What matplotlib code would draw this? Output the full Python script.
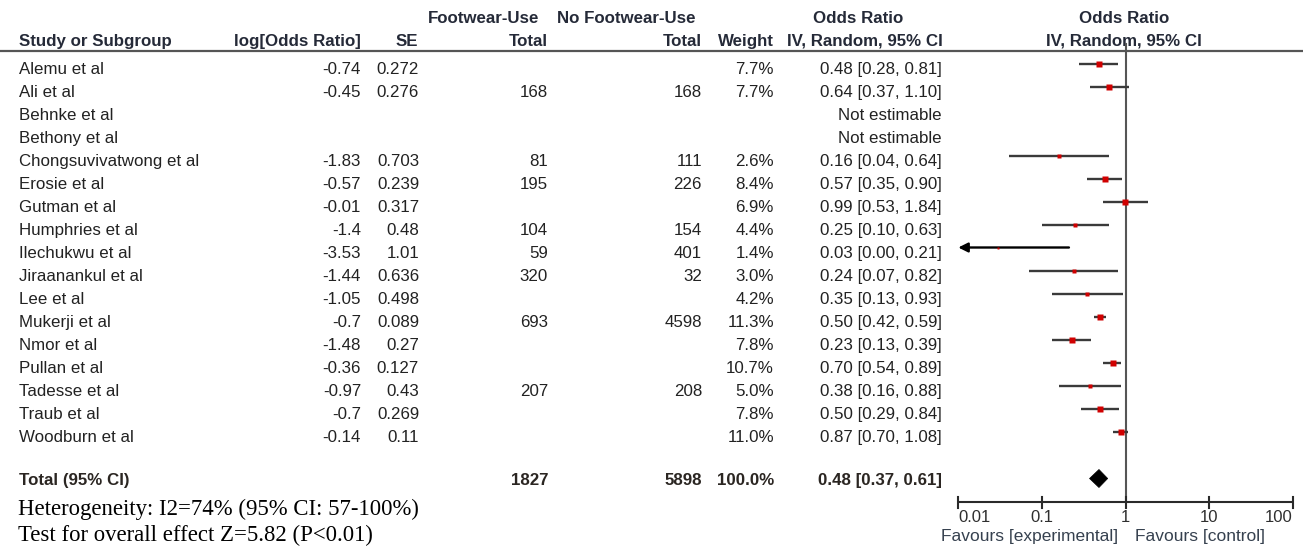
import numpy as np
import matplotlib
matplotlib.use("Agg")
import matplotlib.pyplot as plt
from matplotlib.patches import Polygon

# ---------------- data ----------------
studies = ["Alemu et al", "Ali et al", "Behnke et al", "Bethony et al",
           "Chongsuvivatwong et al", "Erosie et al", "Gutman et al",
           "Humphries et al", "Ilechukwu et al", "Jiraanankul et al",
           "Lee et al", "Mukerji et al", "Nmor et al", "Pullan et al",
           "Tadesse et al", "Traub et al", "Woodburn et al"]
log_or = [-0.74, -0.45, None, None, -1.83, -0.57, -0.01, -1.4, -3.53, -1.44,
          -1.05, -0.7, -1.48, -0.36, -0.97, -0.7, -0.14]
se = [0.272, 0.276, None, None, 0.703, 0.239, 0.317, 0.48, 1.01, 0.636,
      0.498, 0.089, 0.27, 0.127, 0.43, 0.269, 0.11]
fw_total = [None, 168, None, None, 81, 195, None, 104, 59, 320, None, 693,
            None, None, 207, None, None]
nfw_total = [None, 168, None, None, 111, 226, None, 154, 401, 32, None, 4598,
             None, None, 208, None, None]
weight = [7.7, 7.7, None, None, 2.6, 8.4, 6.9, 4.4, 1.4, 3.0, 4.2, 11.3,
          7.8, 10.7, 5.0, 7.8, 11.0]
or_est = [0.48, 0.64, None, None, 0.16, 0.57, 0.99, 0.25, 0.03, 0.24, 0.35,
          0.50, 0.23, 0.70, 0.38, 0.50, 0.87]
ci_lo = [0.28, 0.37, None, None, 0.04, 0.35, 0.53, 0.10, 0.00, 0.07, 0.13,
         0.42, 0.13, 0.54, 0.16, 0.29, 0.70]
ci_hi = [0.81, 1.10, None, None, 0.64, 0.90, 1.84, 0.63, 0.21, 0.82, 0.93,
         0.59, 0.39, 0.89, 0.88, 0.84, 1.08]

total_fw = 1827
total_nfw = 5898
total_weight = 100.0
total_or = 0.48
total_lo = 0.37
total_hi = 0.61

tick_vals = [0.01, 0.1, 1, 10, 100]
tick_labels = ["0.01", "0.1", "1", "10", "100"]

heterogeneity = "Heterogeneity: I2=74% (95% CI: 57-100%)"
overall = "Test for overall effect Z=5.82 (P<0.01)"

# ---------------- layout ----------------
W, H = 1303, 548
fig = plt.figure(figsize=(W / 100, H / 100), dpi=100)
fig.patch.set_facecolor("white")

SANS = ["Liberation Sans", "DejaVu Sans"]
SERIF = ["Liberation Serif", "DejaVu Serif"]
FS = 12.2
body_c = "#222222"
head_c = "#252a38"
tot_c = "#2b2622"

ax = fig.add_axes([0, 0, 1, 1])
ax.set_xlim(0, W)
ax.set_ylim(H, 0)
ax.axis("off")

row0, dy = 63.5, 23.0
base_off = 10.5
tot_mark_y = 478.5
tot_base = 485

# header
def htxt(x, y, s, ha):
    ax.text(x, y, s, ha=ha, va="baseline", fontsize=FS, fontweight="bold",
            color=head_c, family=SANS)

htxt(428, 23, "Footwear-Use", "left")
htxt(557, 23, "No Footwear-Use", "left")
htxt(858, 23, "Odds Ratio", "center")
htxt(1124, 23, "Odds Ratio", "center")
htxt(19, 46, "Study or Subgroup", "left")
htxt(361, 46, "log[Odds Ratio]", "right")
htxt(418, 46, "SE", "right")
htxt(548, 46, "Total", "right")
htxt(702, 46, "Total", "right")
htxt(774, 46, "Weight", "right")
htxt(943, 46, "IV, Random, 95% CI", "right")
htxt(1124, 46, "IV, Random, 95% CI", "center")
ax.plot([0, W], [50.5, 50.5], color="#555555", lw=1.6, solid_capstyle="butt")

def btxt(x, y, s, ha, bold=False, c=body_c):
    ax.text(x, y, s, ha=ha, va="baseline", fontsize=FS,
            fontweight="bold" if bold else "normal", color=c, family=SANS)

for i, name in enumerate(studies):
    yb = row0 + dy * i + base_off
    btxt(19, yb, name, "left")
    if log_or[i] is not None:
        btxt(361, yb, str(log_or[i]), "right")
    if se[i] is not None:
        btxt(419, yb, str(se[i]), "right")
    if fw_total[i] is not None:
        btxt(548, yb, str(fw_total[i]), "right")
    if nfw_total[i] is not None:
        btxt(702, yb, str(nfw_total[i]), "right")
    if weight[i] is not None:
        btxt(774, yb, f"{weight[i]:.1f}%", "right")
    if or_est[i] is not None:
        btxt(942, yb, f"{or_est[i]:.2f} [{ci_lo[i]:.2f}, {ci_hi[i]:.2f}]", "right")
    else:
        btxt(942, yb, "Not estimable", "right")

btxt(19, tot_base, "Total (95% CI)", "left", True, tot_c)
btxt(548, tot_base, str(total_fw), "right", True, tot_c)
btxt(702, tot_base, str(total_nfw), "right", True, tot_c)
btxt(774, tot_base, f"{total_weight:.1f}%", "right", True, tot_c)
btxt(942, tot_base, f"{total_or:.2f} [{total_lo:.2f}, {total_hi:.2f}]", "right", True, tot_c)

ax.text(18, 514.5, heterogeneity, ha="left", va="baseline", fontsize=16.4,
        color="black", family=SERIF)
ax.text(18, 541.5, overall, ha="left", va="baseline", fontsize=16.4,
        color="black", family=SERIF)

# ---------------- forest panel ----------------
fx0, fx1 = 958.3, 1293.0
fa = fig.add_axes([fx0 / W, 0, (fx1 - fx0) / W, 1])
fa.set_xscale("log")
fa.set_xlim(tick_vals[0], tick_vals[-1])
fa.set_ylim(H, 0)
fa.axis("off")
fa.patch.set_alpha(0)

line_c = "#3a3a3a"
fa.plot([1, 1], [44, 502], color="#555555", lw=1.5, zorder=1)

xmin = tick_vals[0]
for i in range(len(studies)):
    if or_est[i] is None:
        continue
    y = row0 + dy * i
    lo, hi = ci_lo[i], ci_hi[i]
    if lo < xmin:
        fa.annotate("", xy=(xmin, y), xytext=(hi, y),
                    arrowprops=dict(arrowstyle="-|>", color="black", lw=1.7,
                                    mutation_scale=14, shrinkA=0, shrinkB=0),
                    zorder=2)
    else:
        fa.plot([lo, hi], [y, y], color=line_c, lw=1.7, zorder=2,
                solid_capstyle="butt")
    side_px = 2.0 * np.sqrt(weight[i])
    fa.plot([or_est[i]], [y], marker="s", ms=side_px * 0.72, color="#d00000",
            mec="none", zorder=3)

# diamond
dh = 9
diamond = Polygon([[total_lo, tot_mark_y], [total_or, tot_mark_y - dh],
                   [total_hi, tot_mark_y], [total_or, tot_mark_y + dh]],
                  closed=True, facecolor="black", edgecolor="black", lw=0.5,
                  zorder=3)
fa.add_patch(diamond)

# axis
ay = 502
fa.plot([tick_vals[0], tick_vals[-1]], [ay, ay], color="#2a2a2a", lw=1.5,
        solid_capstyle="butt", clip_on=False)
for k, (tv, tl) in enumerate(zip(tick_vals, tick_labels)):
    fa.plot([tv, tv], [ay - 5.5, ay + 5.5], color="#2a2a2a", lw=1.5,
            clip_on=False)
    ha = "left" if k == 0 else ("right" if k == len(tick_vals) - 1 else "center")
    fa.text(tv, 522.5, tl, ha=ha, va="baseline", fontsize=12, color="#2f2f2f",
            family=SANS, clip_on=False)

ax.text(1118, 540.5, "Favours [experimental]", ha="right", va="baseline",
        fontsize=12.5, color="#36414f", family=SANS)
ax.text(1135, 540.5, "Favours [control]", ha="left", va="baseline",
        fontsize=12.5, color="#36414f", family=SANS)

fig.savefig("out.png", dpi=100, facecolor="white")
